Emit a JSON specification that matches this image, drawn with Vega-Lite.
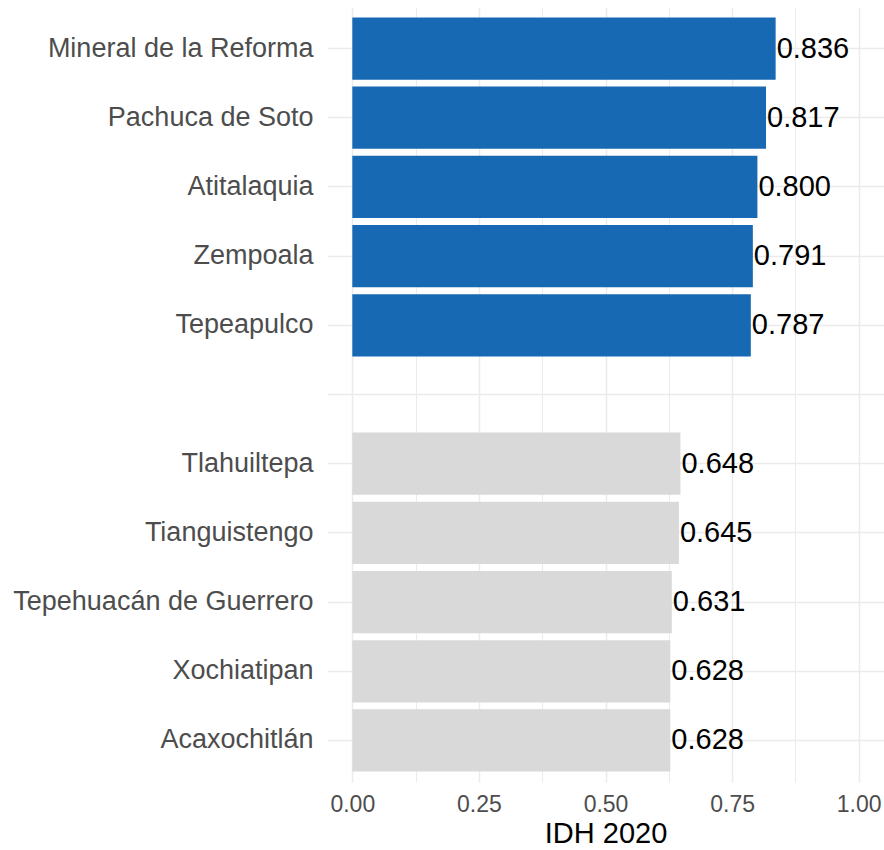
{
  "$schema": "https://vega.github.io/schema/vega-lite/v6.json",
  "width": 557,
  "height": 775,
  "autosize": "none",
  "padding": {"left": 327, "top": 7, "right": 0, "bottom": 68},
  "background": "white",
  "config": {"view": {"stroke": null}, "font": "Liberation Sans"},
  "data": {
    "values": [
      {"municipio": "Mineral de la Reforma", "idh": 0.836, "grupo": "alto"},
      {"municipio": "Pachuca de Soto", "idh": 0.817, "grupo": "alto"},
      {"municipio": "Atitalaquia", "idh": 0.800, "grupo": "alto"},
      {"municipio": "Zempoala", "idh": 0.791, "grupo": "alto"},
      {"municipio": "Tepeapulco", "idh": 0.787, "grupo": "alto"},
      {"municipio": "Tlahuiltepa", "idh": 0.648, "grupo": "bajo"},
      {"municipio": "Tianguistengo", "idh": 0.645, "grupo": "bajo"},
      {"municipio": "Tepehuacán de Guerrero", "idh": 0.631, "grupo": "bajo"},
      {"municipio": "Xochiatipan", "idh": 0.628, "grupo": "bajo"},
      {"municipio": "Acaxochitlán", "idh": 0.628, "grupo": "bajo"}
    ]
  },
  "encoding": {
    "y": {
      "field": "municipio",
      "type": "nominal",
      "sort": null,
      "scale": {
        "domain": ["Mineral de la Reforma", "Pachuca de Soto", "Atitalaquia", "Zempoala", "Tepeapulco", " ", "Tlahuiltepa", "Tianguistengo", "Tepehuacán de Guerrero", "Xochiatipan", "Acaxochitlán"],
        "paddingInner": 0.1,
        "paddingOuter": 0.15
      },
      "axis": {
        "title": null,
        "ticks": false,
        "domain": false,
        "labelFontSize": 27,
        "labelColor": "#4D4D4D",
        "labelPadding": 14,
        "labelLimit": 0,
        "grid": true,
        "gridColor": "#EBEBEB",
        "gridWidth": 1.5,
        "bandPosition": 0.5
      }
    },
    "x": {
      "field": "idh",
      "type": "quantitative",
      "scale": {"domain": [-0.05, 1.05], "nice": false},
      "axis": {
        "values": [0, 0.125, 0.25, 0.375, 0.5, 0.625, 0.75, 0.875, 1],
        "labelExpr": "(datum.value*8)%2 == 0 ? format(datum.value, '.2f') : ''",
        "title": "IDH 2020",
        "titleFontSize": 29,
        "titleColor": "black",
        "titleFontWeight": "normal",
        "labelFontSize": 23,
        "labelColor": "#4D4D4D",
        "labelFlush": false,
        "labelOverlap": false,
        "ticks": false,
        "domain": false,
        "grid": true,
        "gridColor": "#EBEBEB",
        "gridWidth": {"condition": {"test": "(datum.value*8)%2 == 0", "value": 1.5}, "value": 1},
        "labelPadding": 11,
        "titlePadding": 3
      }
    }
  },
  "layer": [
    {
      "mark": {"type": "bar"},
      "encoding": {
        "x2": {"datum": 0},
        "color": {
          "field": "grupo",
          "type": "nominal",
          "scale": {"domain": ["alto", "bajo"], "range": ["#1769B3", "#D9D9D9"]},
          "legend": null
        }
      }
    },
    {
      "mark": {"type": "text", "align": "left", "baseline": "middle", "dx": 1, "fontSize": 29, "color": "black"},
      "encoding": {"text": {"field": "idh", "type": "quantitative", "format": ".3f"}}
    }
  ]
}
